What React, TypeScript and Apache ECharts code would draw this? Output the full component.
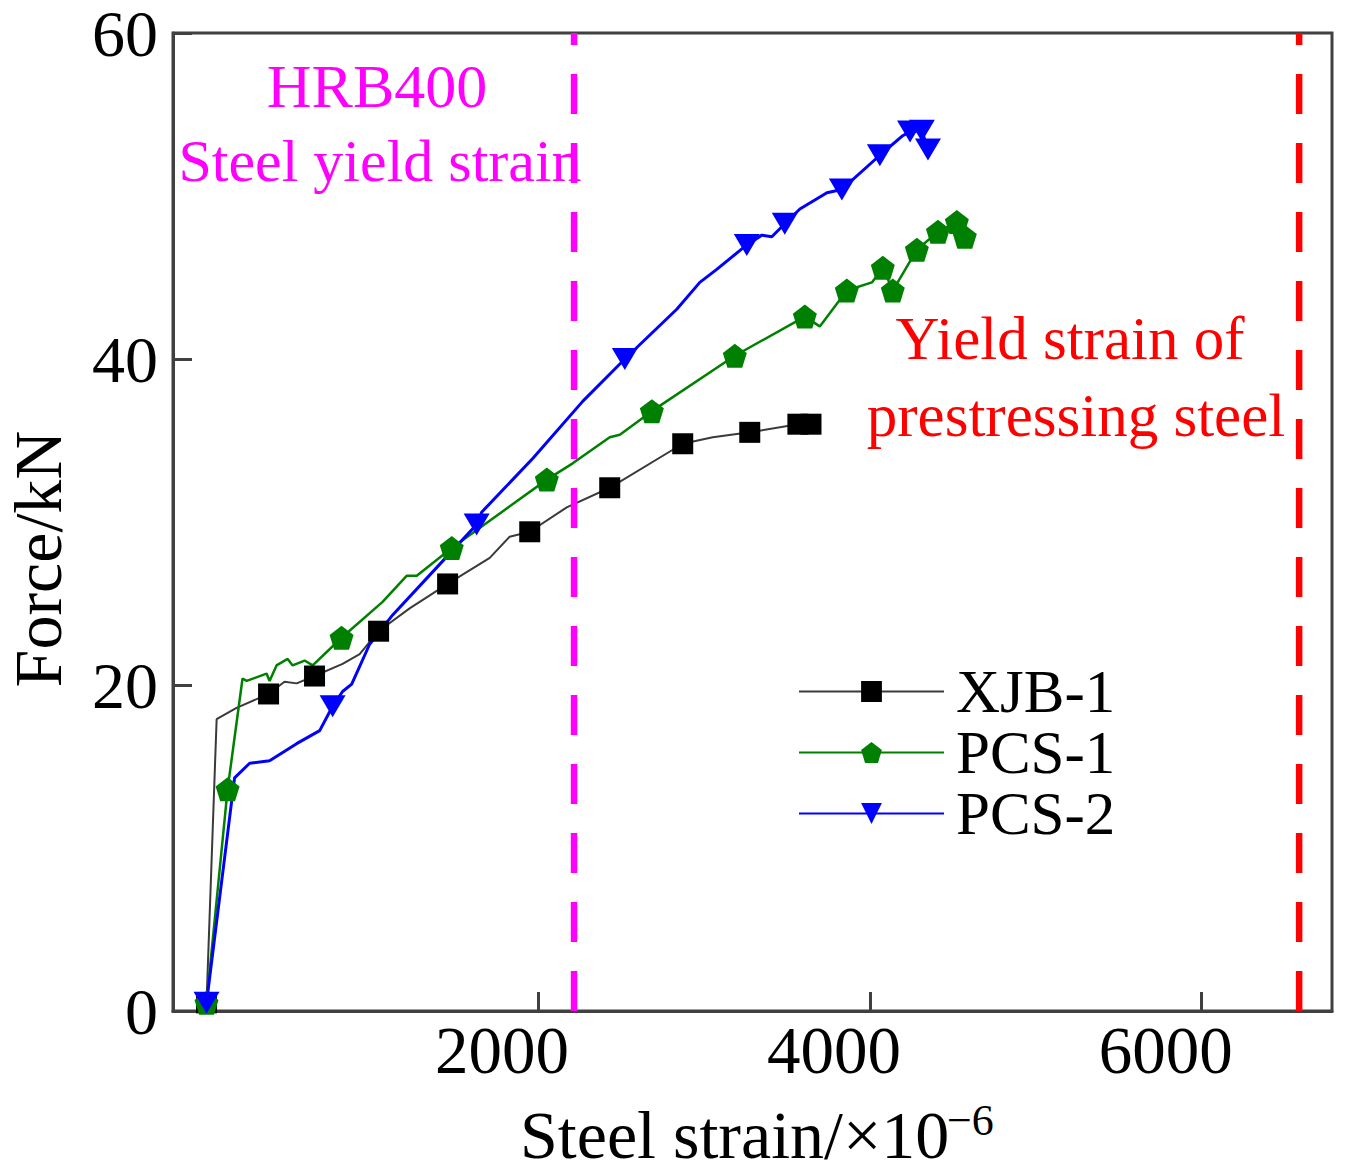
import * as echarts from "echarts";
import { useEffect, useRef } from "react";

// XJB-1 (black squares)
const xjbStrain = [2, 63, 183, 376, 472, 545, 653, 822, 925, 1039, 1226, 1455, 1709, 1829, 1950, 2173, 2432, 2872, 3053, 3276, 3566, 3645];
const xjbForce = [0.5, 17.9, 18.6, 19.45, 20.2, 20.1, 20.55, 21.3, 21.9, 23.3, 24.7, 26.2, 27.8, 29.1, 29.4, 30.9, 32.1, 34.8, 35.2, 35.5, 36.0, 36.0];
const xjbMarked = [1, 0, 0, 1, 0, 0, 1, 0, 0, 1, 0, 1, 0, 0, 1, 0, 1, 1, 0, 1, 1, 1];

// PCS-1 (green pentagons)
const pcs1Strain = [2, 129, 219, 244, 364, 382, 424, 491, 521, 593, 642, 816, 1063, 1208, 1269, 1480, 2053, 2209, 2432, 2493, 2686, 3186, 3608, 3698, 3861, 4012, 4078, 4138, 4283, 4410, 4524, 4572];
const pcs1Force = [0.5, 13.6, 20.4, 20.25, 20.7, 20.25, 21.2, 21.6, 21.2, 21.5, 21.2, 22.9, 25.1, 26.7, 26.7, 28.4, 32.6, 33.6, 35.2, 35.35, 36.8, 40.2, 42.6, 42.0, 44.2, 44.7, 45.6, 44.2, 46.7, 47.8, 48.4, 47.5];
const pcs1Marked = [1, 1, 0, 0, 0, 0, 0, 0, 0, 0, 0, 1, 0, 0, 0, 1, 1, 0, 0, 0, 1, 1, 1, 0, 1, 0, 1, 1, 1, 1, 1, 1];

// PCS-2 (blue down triangles)
const pcs2Strain = [2, 171, 262, 382, 545, 684, 762, 822, 877, 985, 1124, 1407, 1630, 1660, 1968, 2269, 2523, 2836, 2975, 3077, 3258, 3349, 3409, 3487, 3578, 3741, 3831, 4060, 4198, 4242, 4313, 4350];
const pcs2Force = [0.5, 14.3, 15.2, 15.35, 16.4, 17.2, 18.7, 19.6, 20.05, 22.5, 24.3, 27.4, 29.85, 30.6, 33.9, 37.4, 40.0, 43.05, 44.7, 45.5, 47.0, 47.6, 47.5, 48.3, 49.2, 50.2, 50.4, 52.5, 53.7, 53.95, 54.0, 52.85];
const pcs2Marked = [1, 0, 0, 0, 0, 0, 1, 0, 0, 0, 0, 0, 1, 0, 0, 0, 1, 0, 0, 0, 1, 0, 0, 1, 0, 0, 1, 1, 0, 1, 1, 1];

// yield strains (vertical dashed lines)
const hrbYieldStrain = 2217;
const prestressYieldStrain = 6587;

const xTickValues = [2000, 4000, 6000];

const FONT = "Liberation Serif";
const PENTAGON = "path://M0,-1L0.951,-0.309L0.588,0.809L-0.588,0.809L-0.951,-0.309Z";
const TRIANGLE_DOWN = "path://M0,0L2,0L1,1.7Z";

function buildData(strain: number[], force: number[], marked: number[]) {
  return strain.map((s, i) =>
    marked[i] ? { value: [s, force[i]] } : { value: [s, force[i]], symbol: "none" },
  );
}

function getOption() {
  const axisColor = "#404040";
  return {
    animation: false,
    grid: {
      left: 173,
      right: 14,
      top: 31,
      bottom: 164,
      show: true,
      borderColor: axisColor,
      borderWidth: 3,
    },
    xAxis: {
      type: "value",
      min: -200,
      max: 6785,
      splitLine: { show: false },
      axisLine: { onZero: false, lineStyle: { color: axisColor, width: 3 } },
      axisTick: {
        inside: true,
        length: 19,
        customValues: xTickValues,
        lineStyle: { color: axisColor, width: 3 },
      },
      axisLabel: {
        customValues: xTickValues,
        formatter: (v: number) => String(v),
        margin: 5,
        padding: [0, 72, 0, 0],
        color: "#000",
        fontFamily: FONT,
        fontSize: 67,
      },
    },
    yAxis: {
      type: "value",
      min: 0,
      max: 60,
      interval: 20,
      splitLine: { show: false },
      axisLine: { onZero: false, lineStyle: { color: axisColor, width: 3 } },
      axisTick: { inside: true, length: 19, lineStyle: { color: axisColor, width: 3 } },
      axisLabel: {
        margin: 15,
        padding: [18, 0, 0, 0],
        lineHeight: 30,
        color: "#000",
        fontFamily: FONT,
        fontSize: 66,
      },
    },
    legend: {
      orient: "vertical",
      left: 793,
      top: 656,
      itemWidth: 145,
      itemHeight: 26,
      itemGap: 0,
      data: ["XJB-1", "PCS-1", "PCS-2"],
      textStyle: {
        color: "#000",
        fontFamily: FONT,
        fontSize: 61,
        lineHeight: 60,
        padding: [0, 0, 0, 7],
      },
    },
    series: [
      {
        name: "XJB-1",
        type: "line",
        symbol: "rect",
        symbolSize: 21,
        color: "#000",
        lineStyle: { color: "#3a3a3a", width: 2 },
        itemStyle: { color: "#000" },
        data: buildData(xjbStrain, xjbForce, xjbMarked),
      },
      {
        name: "PCS-1",
        type: "line",
        symbol: PENTAGON,
        symbolSize: 24,
        color: "#008000",
        lineStyle: { color: "#008000", width: 2.5 },
        itemStyle: { color: "#008000" },
        data: buildData(pcs1Strain, pcs1Force, pcs1Marked),
      },
      {
        name: "PCS-2",
        type: "line",
        symbol: TRIANGLE_DOWN,
        symbolSize: [26, 22],
        color: "#0000ff",
        lineStyle: { color: "#0000ff", width: 3 },
        itemStyle: { color: "#0000ff" },
        data: buildData(pcs2Strain, pcs2Force, pcs2Marked),
      },
      {
        name: "HRB400 yield",
        type: "line",
        symbol: "none",
        silent: true,
        lineStyle: { color: "#ff00ff", width: 6.5, type: [40, 29] },
        data: [
          [hrbYieldStrain, 0],
          [hrbYieldStrain, 60],
        ],
      },
      {
        name: "Prestressing yield",
        type: "line",
        symbol: "none",
        silent: true,
        lineStyle: { color: "#ff0000", width: 6.5, type: [40, 29] },
        data: [
          [prestressYieldStrain, 0],
          [prestressYieldStrain, 60],
        ],
      },
    ],
    graphic: [
      {
        type: "text",
        x: 38,
        y: 559,
        rotation: Math.PI / 2,
        style: {
          text: "Force/kN",
          fontFamily: FONT,
          fontSize: 68,
          fill: "#000",
          align: "center",
          verticalAlign: "middle",
        },
      },
      {
        type: "text",
        x: 520,
        y: 1135,
        style: {
          text: "Steel strain/×10",
          fontFamily: FONT,
          fontSize: 68,
          fill: "#000",
          align: "left",
          verticalAlign: "middle",
        },
      },
      {
        type: "text",
        x: 947,
        y: 1120,
        style: {
          text: "−6",
          fontFamily: FONT,
          fontSize: 44,
          fill: "#000",
          align: "left",
          verticalAlign: "middle",
        },
      },
      {
        type: "text",
        x: 377,
        y: 86,
        style: {
          text: "HRB400",
          fontFamily: FONT,
          fontSize: 62,
          fill: "#ff00ff",
          align: "center",
          verticalAlign: "middle",
        },
      },
      {
        type: "text",
        x: 380,
        y: 161,
        style: {
          text: "Steel yield strain",
          fontFamily: FONT,
          fontSize: 60,
          fill: "#ff00ff",
          align: "center",
          verticalAlign: "middle",
        },
      },
      {
        type: "text",
        x: 1070,
        y: 338,
        style: {
          text: "Yield strain of",
          fontFamily: FONT,
          fontSize: 61,
          fill: "#ff0000",
          align: "center",
          verticalAlign: "middle",
        },
      },
      {
        type: "text",
        x: 1076,
        y: 415,
        style: {
          text: "prestressing steel",
          fontFamily: FONT,
          fontSize: 61,
          fill: "#ff0000",
          align: "center",
          verticalAlign: "middle",
        },
      },
    ],
  };
}

const App = () => {
  const containerRef = useRef<HTMLDivElement>(null);

  useEffect(() => {
    if (!containerRef.current) return;
    const chart = echarts.init(containerRef.current, undefined, { renderer: "svg" });
    chart.setOption(getOption());
    return () => {
      chart.dispose();
    };
  }, []);

  return (
    <div
      ref={containerRef}
      style={{ position: "absolute", left: 0, top: 0, width: 1346, height: 1175, background: "#fff" }}
    />
  );
};

export default App;
